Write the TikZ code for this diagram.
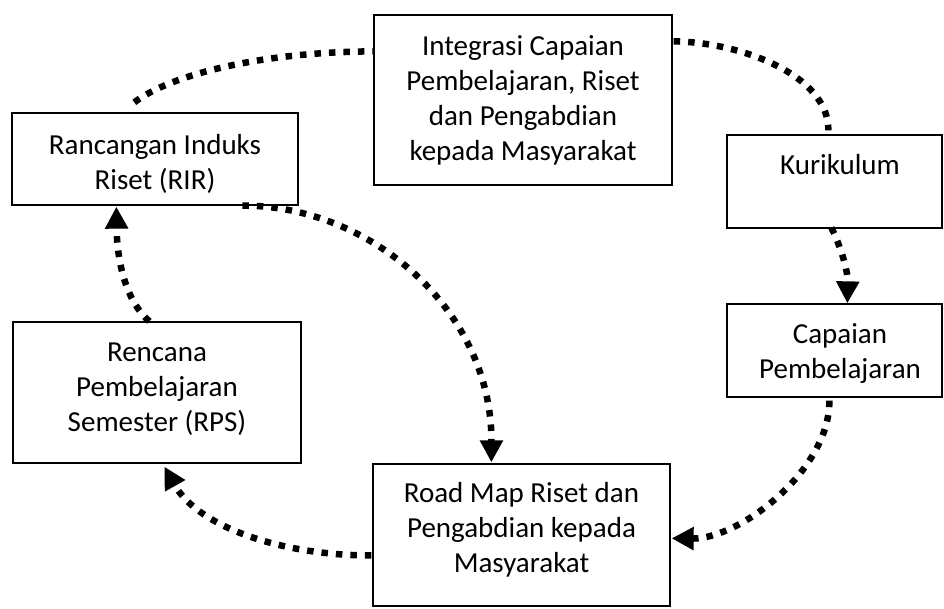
\documentclass[tikz,border=0pt]{standalone}
\usepackage{fontspec}
\setmainfont{Carlito}
\usetikzlibrary{arrows.meta,calc}
\begin{document}
\begin{tikzpicture}[x=1pt,y=-1pt,
  box/.style={draw=black,line width=1.3pt,rectangle,inner sep=0pt},
  txt/.style={align=center,font=\fontsize{29}{35}\selectfont,inner sep=0pt},
  link/.style={line width=6.5pt,dash pattern=on 6.5pt off 8pt},
  tip/.style={-{Triangle[length=22pt,width=22pt]}}]
\path[use as bounding box,fill=white] (0,0) rectangle (944,608);
\clip (0,0) rectangle (944,608);
% boxes
\node[box,minimum width=298pt,minimum height=170pt] (integ) at (523,100) {};
\node[box,minimum width=286pt,minimum height=92pt] (rir) at (155,159) {};
\node[box,minimum width=215pt,minimum height=93pt] (kur) at (834.5,181.5) {};
\node[box,minimum width=215pt,minimum height=93pt] (cap) at (834.5,350.5) {};
\node[box,minimum width=288pt,minimum height=141pt] (rps) at (157,392.5) {};
\node[box,minimum width=297pt,minimum height=142pt] (road) at (521.5,535) {};
% texts
\node[txt] (integT) at (523,100) {Integrasi Capaian\\Pembelajaran, Riset\\dan Pengabdian\\kepada Masyarakat};
\node[txt] (rirT) at (155,164) {Rancangan Induks\\Riset (RIR)};
\node[txt] (kurT) at (840,165) {Kurikulum};
\node[txt] (capT) at (840,354) {Capaian\\Pembelajaran};
\node[txt] (rpsT) at (157,389) {Rencana\\Pembelajaran\\Semester (RPS)};
\node[txt] (roadT) at (521.5,530) {Road Map Riset dan\\Pengabdian kepada\\Masyarakat};
% connector end points
\coordinate (c1s) at ($(rir.north west)+(123,-10)$);
\coordinate (c1e) at ($(integ.north west)+(0,37)$);
\coordinate (c2s) at ($(integ.north east)+(1,27)$);
\coordinate (c2e) at ($(kur.north west)+(102,-4)$);
\coordinate (c3s) at ($(kur.south west)+(105,-1)$);
\coordinate (c3e) at ($(cap.north west)+(121,0)$);
\coordinate (c4s) at ($(cap.south west)+(103,3)$);
\coordinate (c4e) at ($(road.north east)+(1,75)$);
\coordinate (c5s) at ($(road.north west)+(-1,92)$);
\coordinate (c5e) at ($(rps.south west)+(152,3)$);
\coordinate (c6s) at ($(rps.north west)+(137,0)$);
\coordinate (c6e) at ($(rir.south west)+(105,1)$);
\coordinate (c7s) at ($(rir.south west)+(231,0)$);
\coordinate (c7e) at ($(road.north west)+(119,-1)$);
% connectors
\draw[link] (c1s) .. controls (170,75) and (260,52) .. (c1e);
\draw[link] (c2s) .. controls (740,42) and (829,75) .. (c2e);
\draw[link,tip] (c3s) .. controls (840,245) and (848,270) .. (c3e);
\draw[link,tip] (c4s) .. controls (830,470) and (740,539) .. (c4e);
\draw[link,tip] (c5s) .. controls (290,556) and (200,530) .. (c5e);
\draw[link,tip] (c6s) .. controls (125,300) and (117,260) .. (c6e);
\draw[link,tip] (c7s) .. controls (370,205) and (492,310) .. (c7e);
\end{tikzpicture}
\end{document}
